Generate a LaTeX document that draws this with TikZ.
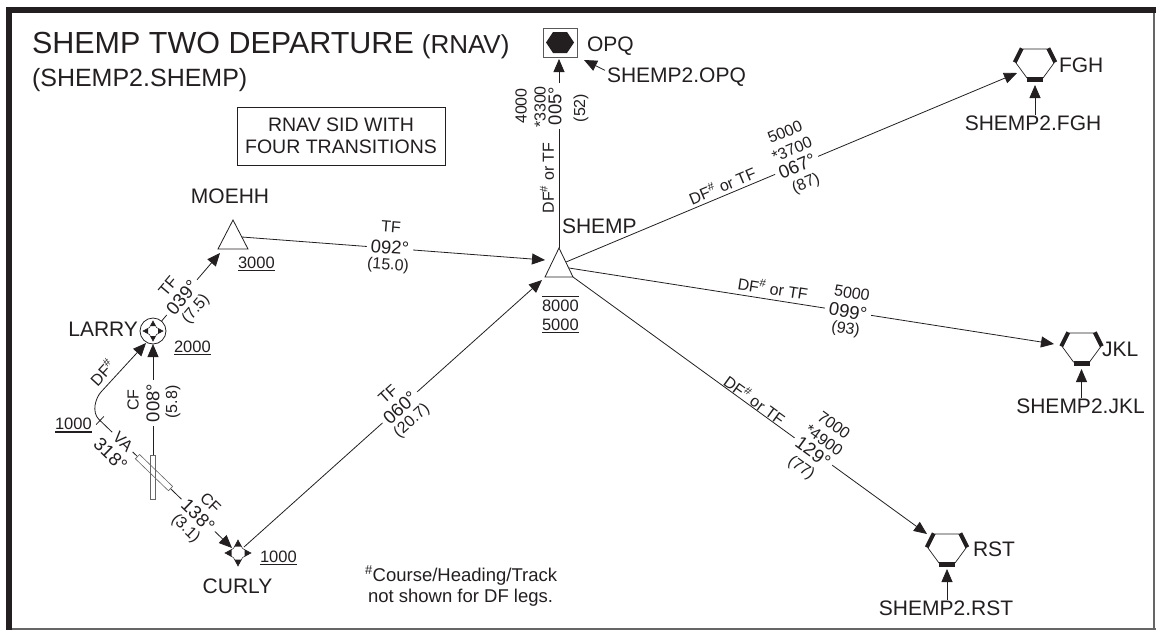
\documentclass[tikz,border=0pt]{standalone}
\usepackage{fontspec}
\setmainfont{Liberation Sans}
\usetikzlibrary{arrows.meta,calc}
\definecolor{ink}{HTML}{231F20}
\newcommand{\fsz}[1]{\fontsize{#1}{#1}\selectfont}
\newcommand{\dfh}{DF\textsuperscript{\#}}
\tikzset{
  hexwp/.pic={
    \draw[line width=0.7pt,ink,line join=round] (-19,-2) -- (-12,-16) -- (12,-16) -- (19,-2) -- (8,13) -- (-8,13) -- cycle;
    \draw[line width=4pt,ink] (-20.3,-2.7) -- (-13.3,-16.7);
    \draw[line width=4pt,ink] (20.3,-2.7) -- (13.3,-16.7);
    \fill[ink] (-8,12) rectangle (8,17);
  },
  starwp/.pic={
    \draw[line width=0.5pt,ink,fill=white] (0,-10) -- (3.5,-3.5) -- (10,0) -- (3.5,3.5) -- (0,10) -- (-3.5,3.5) -- (-10,0) -- (-3.5,-3.5) -- cycle;
    \fill[ink] (0,-10) -- (2.7,-5) -- (-2.7,-5) -- cycle;
    \fill[ink] (0,10) -- (2.7,5) -- (-2.7,5) -- cycle;
    \fill[ink] (-10,0) -- (-5,2.7) -- (-5,-2.7) -- cycle;
    \fill[ink] (10,0) -- (5,2.7) -- (5,-2.7) -- cycle;
  },
}
\begin{document}
\begin{tikzpicture}[x=1pt,y=-1pt,
  every node/.style={inner sep=0pt,outer sep=0pt,text=ink},
  leg/.style={line width=0.8pt,draw=ink},
  arr/.style={leg,-{Triangle[length=13pt,width=11pt]}},
  lab/.style={font=\fsz{16}},
  crs/.style={font=\fsz{18.5}},
  oncrs/.style={crs,fill=white,inner xsep=4pt,inner ysep=1pt},
  onlab/.style={lab,fill=white,inner xsep=4pt,inner ysep=1pt},
  wname/.style={font=\fsz{21}},
  alt/.style={font=\fsz{16.5}},
  rwy/.style={draw=black!60,line width=0.6pt,fill=white},
  ulin/.style={draw=ink,line width=0.6pt},
]
\useasboundingbox (0,0) rectangle (1156,630);
% frame
\fill[ink] (6,7) rectangle (1156,12.5);
\fill[ink] (6,7) rectangle (12,630);
\fill[black!60] (12,628) rectangle (1156,630);
\fill[black!60] (1153,12.5) rectangle (1155,630);

% titles
\node[anchor=base west,font=\fsz{30.5}] (title) at (32,53) {SHEMP TWO DEPARTURE};
\node[anchor=base west,font=\fsz{26}] (rnav) at ([xshift=8pt]title.base east) {(RNAV)};
\node[anchor=base west,font=\fsz{25}] (sub) at (32,86) {(SHEMP2.SHEMP)};
\node[draw=ink,line width=0.6pt,minimum width=208pt,minimum height=58pt,align=center,font=\fontsize{19.5}{22}\selectfont] (info) at (341,136) {RNAV SID WITH\\FOUR TRANSITIONS};

% coordinates
\coordinate (shempN) at (559,248);
\coordinate (shempFGH) at (566,262);
\coordinate (shempJKL) at (569,268);
\coordinate (shempRST) at (573,277);
\coordinate (shempIn1) at (545,260);
\coordinate (shempIn2) at (542,280);
\coordinate (moehhIn) at (220,253);
\coordinate (moehhOut) at (242,237);
\coordinate (rwyNW) at (137.5,456.6);
\coordinate (rwySE) at (170.5,488.6);
\coordinate (rwyN) at (153,455);
\coordinate (vaEnd) at (99,419.5);
\coordinate (dfStart) at (101,392);
\coordinate (larryDF) at (146,343);
\coordinate (curly) at (238,553);
\coordinate (curlyIn) at (232,548);
\coordinate (curlyOut) at (244,547);
\coordinate (opqIn) at (559,59);
\coordinate (opqArr) at (584,60);
\coordinate (fgh) at (1035,65);
\coordinate (fghIn) at (1017,73);
\coordinate (fghB) at (1035,85);
\coordinate (jkl) at (1081.5,349);
\coordinate (jklIn) at (1054,344);
\coordinate (jklB) at (1081.5,369);
\coordinate (rst) at (947,550);
\coordinate (rstIn) at (927,534);
\coordinate (rstB) at (947,569);

% LARRY fix (circle)
\node[circle,draw=ink,line width=0.8pt,fill=white,minimum size=26pt] (larry) at (153,331) {};

% connectors
\draw[arr] (shempN) -- (opqIn);
\draw[arr] (shempFGH) -- (fghIn);
\draw[arr] (shempJKL) -- (jklIn);
\draw[arr] (shempRST) -- (rstIn);
\draw[arr] (moehhOut) -- (shempIn1);
\draw[arr] (curlyOut) -- (shempIn2);
\draw[arr] (larry) -- (moehhIn);
\draw[arr] (rwyN) -- (larry);
\draw[arr] (rwyNW) -- (vaEnd) .. controls (91.3,412) and (95.6,397.9) .. (dfStart) -- (larryDF);
\draw[ink,line width=0.8pt] (96.2,424.5) -- (103.8,416.5);
\draw[arr] (rwySE) -- (curlyIn);

% runways
\draw[rwy] (150.5,455) rectangle (155.5,499);
\draw[rwy,rotate around={-44:(154,472.6)}] (131,469.6) rectangle (177,475.6);
\draw[draw=black!60,line width=0.6pt] (150.5,455) rectangle (155.5,499);

% symbols
\draw[leg,fill=white] (shempN) -- (573,277) -- (545,277) -- cycle;
\draw[leg,fill=white] (233,220) -- (248,249) -- (218,249) -- cycle;
\pic at (larry) {starwp};
\pic[scale=1.3] at (curly) {starwp};
\node[draw=black!65,line width=0.7pt,minimum width=34pt,minimum height=29pt] (opq) at (560,42.5) {};
\fill[ink,shift={(opq.center)}] (-14,0) -- (-7,-10.5) -- (7,-10.5) -- (14,0) -- (7,10.5) -- (-7,10.5) -- cycle;
\pic at (fgh) {hexwp};
\pic at (jkl) {hexwp};
\pic at (rst) {hexwp};

% names
\node[wname,anchor=base west] (opqL) at (587,51) {OPQ};
\node[wname,anchor=base west] (sopq) at (607,82) {SHEMP2.OPQ};
\node[wname,anchor=base west] (fghL) at (1059,72) {FGH};
\node[wname,anchor=base] (sfgh) at (1033,130) {SHEMP2.FGH};
\node[wname,anchor=base west] (jklL) at (1102,356) {JKL};
\node[wname,anchor=base] (sjkl) at (1080.5,413) {SHEMP2.JKL};
\node[wname,anchor=base west] (rstL) at (973,556) {RST};
\node[wname,anchor=base] (srst) at (946,615) {SHEMP2.RST};
\node[wname,anchor=base west] (shempL) at (562,233) {SHEMP};
\node[wname,anchor=base] (moehhL) at (230,203) {MOEHH};
\node[wname,anchor=base east] (larryL) at (138,336) {LARRY};
\node[wname,anchor=base] (curlyL) at (237.5,593) {CURLY};
\draw[arr] (sfgh.north -| fgh) -- (fghB);
\draw[arr] (sjkl.north -| jkl) -- (jklB);
\draw[arr] (srst.north -| rst) -- (rstB);
\draw[arr] ([shift={(-2,3)}]sopq.north west) -- (opqArr);

% altitudes
\node[alt,anchor=base west] (a3000) at (238,268) {3000};
\draw[ulin] ([yshift=-2.5pt]a3000.base west) -- ([yshift=-2.5pt]a3000.base east);
\node[alt,anchor=base west] (a2000) at (174,352) {2000};
\draw[ulin] ([yshift=-2.5pt]a2000.base west) -- ([yshift=-2.5pt]a2000.base east);
\node[alt,anchor=base west] (a1000c) at (260,562) {1000};
\draw[ulin] ([yshift=-2.5pt]a1000c.base west) -- ([yshift=-2.5pt]a1000c.base east);
\node[alt,anchor=base west] (a1000v) at (55,429) {1000};
\draw[draw=ink,line width=2pt] ([yshift=-3pt]a1000v.base west) -- ([yshift=-3pt]a1000v.base east);
\node[alt,anchor=base west] (a8000) at (542,311) {8000};
\draw[ulin] ([yshift=3pt]a8000.north west) -- ([yshift=3pt]a8000.north east);
\node[alt,anchor=base west] (a5000) at (542,330) {5000};
\draw[ulin] ([yshift=-2.5pt]a5000.base west) -- ([yshift=-2.5pt]a5000.base east);

% on-line course labels
\node[oncrs,rotate=-4.4] at (390,247.5) {092°};
\node[oncrs,rotate=49.8] at (182,297.5) {039°};
\node[oncrs,rotate=90] at (153,403) {008°};
\node[onlab,rotate=-44] at (123,441.5) {VA};
\node[oncrs,rotate=-44] at (198,515.5) {138°};
\node[oncrs,rotate=41.9] at (400,407.5) {060°};
\node[oncrs,rotate=90] at (555,106) {005°};
\node[oncrs,rotate=22.8] at (797,166.5) {067°};
\node[oncrs,rotate=-8.9] at (848,311.5) {099°};
\node[oncrs,rotate=-35.9] at (813,452) {129°};

% other leg labels
\node[lab,rotate=-4.4] at (391,227) {TF};
\node[lab,rotate=-4.4] at (388,265.5) {(15.0)};
\node[lab,rotate=49.8] at (168,286) {TF};
\node[lab,rotate=49.8] at (196,309.5) {(7.5)};
\node[lab,rotate=90] at (133,400) {CF};
\node[lab,rotate=90] at (173,402) {(5.8)};
\node[lab,rotate=47.5] at (102,372) {\dfh};
\node[crs,rotate=-44] at (110.5,454.5) {318°};
\node[lab,rotate=-44] at (210.5,502.5) {CF};
\node[lab,rotate=-44] at (185.5,528.5) {(3.1)};
\node[lab,rotate=41.9] at (388,394) {TF};
\node[lab,rotate=41.9] at (412,421) {(20.7)};
\node[lab,rotate=90] at (547,178) {\dfh{} or TF};
\node[lab,rotate=90] at (521,106) {4000};
\node[lab,rotate=90] at (540,107) {*3300};
\node[lab,rotate=90] at (581,108) {(52)};
\node[lab,rotate=22.8] at (722,185) {\dfh{} or TF};
\node[lab,rotate=22.8] at (785,132) {5000};
\node[lab,rotate=22.8] at (792,149.5) {*3700};
\node[lab,rotate=22.8] at (806,184) {(87)};
\node[lab,rotate=-8.9] at (773,288) {\dfh{} or TF};
\node[lab,rotate=-8.9] at (852,293) {5000};
\node[lab,rotate=-8.9] at (845.5,329.5) {(93)};
\node[lab,rotate=-35.9] at (755,400) {\dfh{} or TF};
\node[lab,rotate=-35.9] at (834,425) {7000};
\node[lab,rotate=-35.9] at (824,440) {*4900};
\node[lab,rotate=-35.9] at (801,468) {(77)};

% footnote
\node[anchor=base west,font=\fsz{18.5}] (fn1) at (365,581) {\textsuperscript{\#}Course/Heading/Track};
\node[anchor=base west,font=\fsz{18.5}] (fn2) at (368,602) {not shown for DF legs.};
\end{tikzpicture}
\end{document}
